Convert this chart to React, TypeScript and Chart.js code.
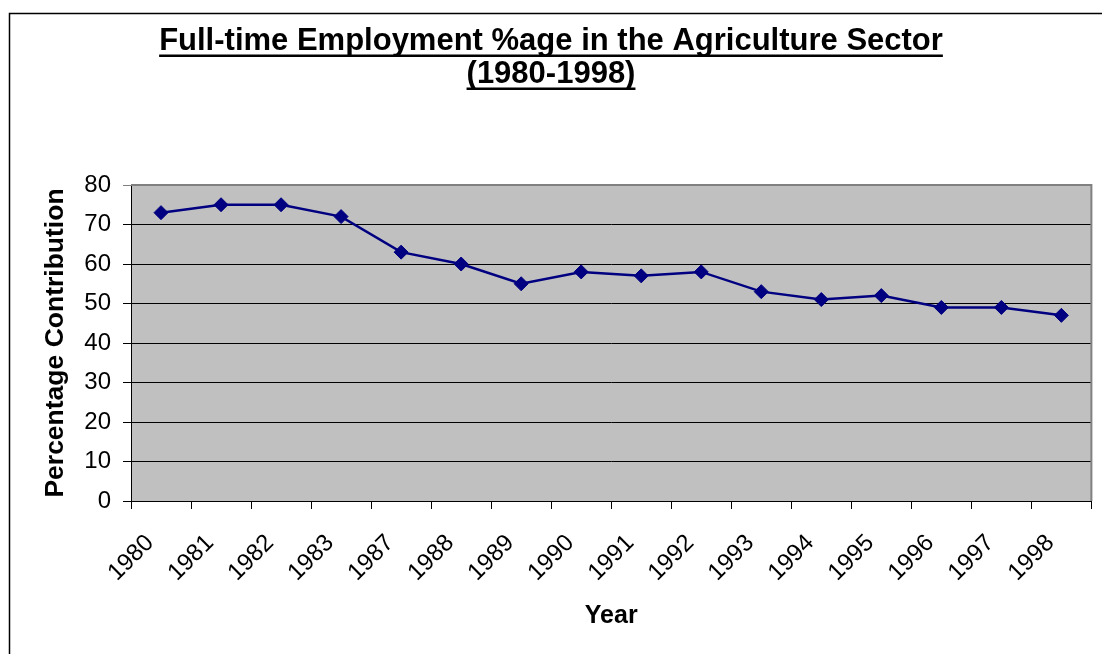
import React, { useEffect, useRef } from 'react';
import { Chart, registerables } from 'chart.js';

Chart.register(...registerables);

const years = ['1980', '1981', '1982', '1983', '1987', '1988', '1989', '1990', '1991', '1992', '1993', '1994', '1995', '1996', '1997', '1998'];
const employmentPct = [73, 75, 75, 72, 63, 60, 55, 58, 57, 58, 53, 51, 52, 49, 49, 47];
const yMin = 0;
const yMax = 80;
const yStep = 10;
const titleLines = ['Full-time Employment %age in the Agriculture Sector', '(1980-1998)'];
const xAxisTitle = 'Year';
const yAxisTitle = 'Percentage Contribution';

const FONT = '"Liberation Sans", Arial, sans-serif';
const TITLE_SIZE = 31;
const TITLE_LH = 33;

const framePlugin = {
  id: 'frame',
  beforeDraw(chart: any) {
    const { ctx, chartArea } = chart;
    ctx.save();
    ctx.fillStyle = '#ffffff';
    ctx.fillRect(0, 0, chart.width, chart.height);
    ctx.strokeStyle = '#000000';
    ctx.lineWidth = 1.5;
    ctx.strokeRect(9.5, 13.5, 3000, 3000);
    ctx.fillStyle = '#C0C0C0';
    ctx.fillRect(chartArea.left, chartArea.top, chartArea.right - chartArea.left, chartArea.bottom - chartArea.top);
    ctx.restore();
  },
  beforeDatasetsDraw(chart: any) {
    const { ctx, chartArea } = chart;
    ctx.save();
    ctx.strokeStyle = '#808080';
    ctx.lineWidth = 2;
    ctx.beginPath();
    ctx.moveTo(chartArea.left, chartArea.top);
    ctx.lineTo(chartArea.right, chartArea.top);
    ctx.lineTo(chartArea.right, chartArea.bottom);
    ctx.stroke();
    ctx.restore();
  },
  afterDraw(chart: any) {
    const { ctx } = chart;
    const tb = chart.titleBlock;
    if (!tb) return;
    ctx.save();
    ctx.font = `bold ${TITLE_SIZE}px ${FONT}`;
    ctx.fillStyle = '#000000';
    const cx = (tb.left + tb.right) / 2;
    const pad = tb.options.padding;
    const padTop = typeof pad === 'number' ? pad : pad.top;
    titleLines.forEach((line, i) => {
      const w = ctx.measureText(line).width;
      const mid = tb.top + padTop + TITLE_LH / 2 + i * TITLE_LH;
      ctx.fillRect(cx - w / 2, mid + 13.5, w, 2.5);
    });
    ctx.restore();
  },
};

export default function App() {
  const ref = useRef<HTMLCanvasElement | null>(null);

  useEffect(() => {
    if (!ref.current) return;
    Chart.defaults.color = '#000000';
    const chart = new Chart(ref.current, {
      type: 'line',
      data: {
        labels: years,
        datasets: [
          {
            label: 'Employment %',
            data: employmentPct,
            borderColor: '#000080',
            backgroundColor: '#000080',
            borderWidth: 2.5,
            pointStyle: 'rectRot',
            pointRadius: 7,
            pointBorderWidth: 1,
            pointBackgroundColor: '#000080',
            pointBorderColor: '#000080',
            tension: 0,
            fill: false,
          },
        ],
      },
      options: {
        responsive: false,
        animation: false,
        layout: { padding: { left: 7, right: 7, top: 0, bottom: 0 } },
        plugins: {
          legend: { display: false },
          tooltip: { enabled: false },
          title: {
            display: true,
            text: titleLines,
            color: '#000000',
            font: { family: FONT, size: TITLE_SIZE, weight: 'bold', lineHeight: `${TITLE_LH}px` },
            padding: { top: 24.5, bottom: 94.5 },
          },
        },
        scales: {
          x: {
            type: 'category',
            offset: true,
            afterFit: (s: any) => {
              s.height = 153;
            },
            grid: {
              offset: true,
              drawOnChartArea: false,
              drawTicks: true,
              tickLength: 8,
              color: '#000000',
              lineWidth: 1,
            },
            border: { display: true, color: '#000000', width: 1 },
            ticks: {
              autoSkip: false,
              maxRotation: 45,
              minRotation: 45,
              padding: 20,
              labelOffset: -11,
              color: '#000000',
              font: { family: FONT, size: 24 },
            },
            title: {
              display: true,
              text: xAxisTitle,
              color: '#000000',
              font: { family: FONT, size: 25, weight: 'bold', lineHeight: 1.2 },
              padding: { top: 0, bottom: 23 },
            },
          },
          y: {
            type: 'linear',
            min: yMin,
            max: yMax,
            afterFit: (s: any) => {
              s.width = 124;
            },
            grid: {
              drawTicks: true,
              tickLength: 8,
              color: (c: any) => (c.tick && c.tick.value === yMax ? '#808080' : '#000000'),
              lineWidth: 1,
            },
            border: { display: true, color: '#000000', width: 1 },
            ticks: {
              stepSize: yStep,
              padding: 12,
              color: '#000000',
              font: { family: FONT, size: 24 },
            },
            title: {
              display: true,
              text: yAxisTitle,
              color: '#000000',
              font: { family: FONT, size: 26.5, weight: 'bold', lineHeight: 1.2 },
              padding: { top: 32.5, bottom: 0 },
            },
          },
        },
      },
      plugins: [framePlugin],
    });
    return () => chart.destroy();
  }, []);

  return (
    <div style={{ position: 'absolute', left: 0, top: 0, width: 1102, height: 654 }}>
      <canvas ref={ref} width={1102} height={654} style={{ display: 'block' }} />
    </div>
  );
}
